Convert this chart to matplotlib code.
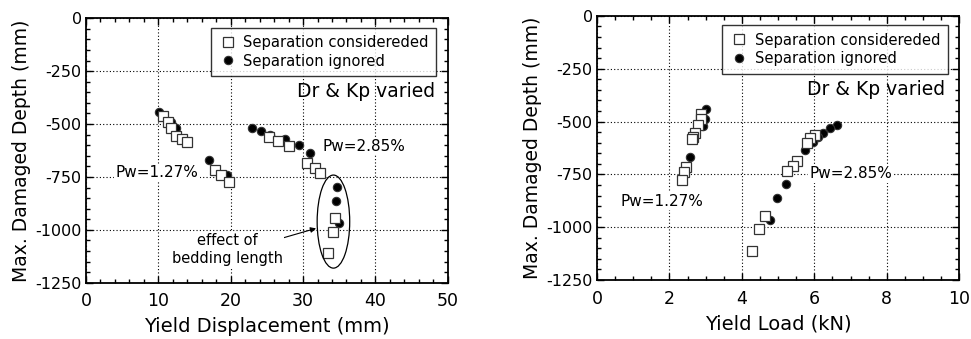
import matplotlib
matplotlib.use("Agg")
import matplotlib.pyplot as plt
from matplotlib.patches import Ellipse
from matplotlib.ticker import MultipleLocator

plt.rcParams["axes.unicode_minus"] = False

# ---- data ----
depth_sq = [-462, -489, -517, -556, -572, -583, -717, -741, -775,
            -563, -580, -602, -686, -709, -733, -946, -1009, -1111]
disp_sq = [10.7, 11.3, 11.7, 12.5, 13.2, 14.0, 17.8, 18.7, 19.8,
           25.3, 26.6, 28.1, 30.5, 31.6, 32.4, 34.4, 34.2, 33.4]
load_sq = [2.87, 2.86, 2.80, 2.70, 2.66, 2.61, 2.45, 2.39, 2.34,
           6.02, 5.89, 5.79, 5.52, 5.40, 5.24, 4.63, 4.46, 4.28]

depth_ci = [-441, -489, -520, -670, -741, -517, -531, -552, -572,
            -599, -635, -796, -862, -966]
disp_ci = [10.1, 11.8, 12.4, 17.05, 19.5, 22.9, 24.2, 25.4, 27.5,
           29.4, 30.9, 34.7, 34.5, 35.0]
load_ci = [3.01, 2.98, 2.92, 2.58, 2.42, 6.62, 6.44, 6.25, 6.09,
           5.95, 5.75, 5.23, 4.96, 4.78]

label_sq = "Separation considereded"
label_ci = "Separation ignored"

fig = plt.figure(figsize=(9.71, 3.39), dpi=100)
ax1 = fig.add_axes([0.0886, 0.166, 0.3725, 0.780])
ax2 = fig.add_axes([0.6148, 0.174, 0.3731, 0.779])


def style(ax, xmax, xmajor, xminor, xlabel):
    ax.set_xlim(0, xmax)
    ax.set_ylim(-1250, 0)
    ax.xaxis.set_major_locator(MultipleLocator(xmajor))
    ax.xaxis.set_minor_locator(MultipleLocator(xminor))
    ax.yaxis.set_major_locator(MultipleLocator(250))
    ax.yaxis.set_minor_locator(MultipleLocator(50))
    ax.tick_params(which="both", direction="in", top=True, right=True,
                   width=1)
    ax.tick_params(which="major", length=5)
    ax.tick_params(which="minor", length=3)
    ax.tick_params(axis="x", which="major", labelsize=12.5, pad=7)
    ax.tick_params(axis="y", which="major", labelsize=11.5, pad=3)
    ax.grid(True, which="major", linestyle=(0, (1, 2)), color="black",
            linewidth=0.8)
    for s in ax.spines.values():
        s.set_linewidth(1.3)
    ax.set_xlabel(xlabel, fontsize=14, labelpad=5)
    ax.set_ylabel("Max. Damaged Depth (mm)", fontsize=13.5, labelpad=3)


def scatter(ax, xs, xc):
    hc, = ax.plot(xc, depth_ci, linestyle="none", marker="o", markersize=6,
                  markerfacecolor="black", markeredgecolor="#333333",
                  markeredgewidth=0.8, label=label_ci, zorder=3)
    hs, = ax.plot(xs, depth_sq, linestyle="none", marker="s", markersize=6.5,
                  markerfacecolor="white", markeredgecolor="#333333",
                  markeredgewidth=0.9, label=label_sq, zorder=4)
    leg = ax.legend([hs, hc], [label_sq, label_ci], loc="upper right",
                    bbox_to_anchor=(0.968, 0.965), borderaxespad=0,
                    fontsize=10.6, frameon=True, fancybox=False,
                    handletextpad=0.4, handlelength=1.3, borderpad=0.5,
                    labelspacing=0.25)
    leg.get_frame().set_edgecolor("black")
    leg.get_frame().set_linewidth(1.0)
    leg.set_zorder(6)


bbox = dict(facecolor="white", edgecolor="none", pad=1)

style(ax1, 50, 10, 2, "Yield Displacement (mm)")
scatter(ax1, disp_sq, disp_ci)
ax1.text(48.2, -347, "Dr & Kp varied", fontsize=13.5, ha="right", va="center")
ax1.text(9.8, -730, "Pw=1.27%", fontsize=11, ha="center", va="center",
         bbox=bbox, zorder=2)
ax1.text(38.4, -604, "Pw=2.85%", fontsize=11, ha="center", va="center",
         bbox=bbox, zorder=2)
ax1.add_patch(Ellipse((34.2, -961), 4.5, 440, fill=False,
                      edgecolor="black", linewidth=0.9, zorder=5))
ax1.annotate("effect of\nbedding length", xy=(31.8, -993),
             xytext=(19.5, -1093), fontsize=10.5, ha="center", va="center",
             linespacing=1.25, bbox=bbox,
             arrowprops=dict(arrowstyle="-|>", color="black", lw=0.8,
                             shrinkA=0, shrinkB=0, mutation_scale=8,
                             relpos=(0.93, 0.78)))

style(ax2, 10, 2, 0.5, "Yield Load (kN)")
scatter(ax2, load_sq, load_ci)
ax2.text(9.61, -350, "Dr & Kp varied", fontsize=13.5, ha="right", va="center")
ax2.text(1.8, -876, "Pw=1.27%", fontsize=11, ha="center", va="center",
         bbox=bbox, zorder=2)
ax2.text(7.02, -748, "Pw=2.85%", fontsize=11, ha="center", va="center",
         bbox=bbox, zorder=2)

fig.savefig("out.png", dpi=100)
